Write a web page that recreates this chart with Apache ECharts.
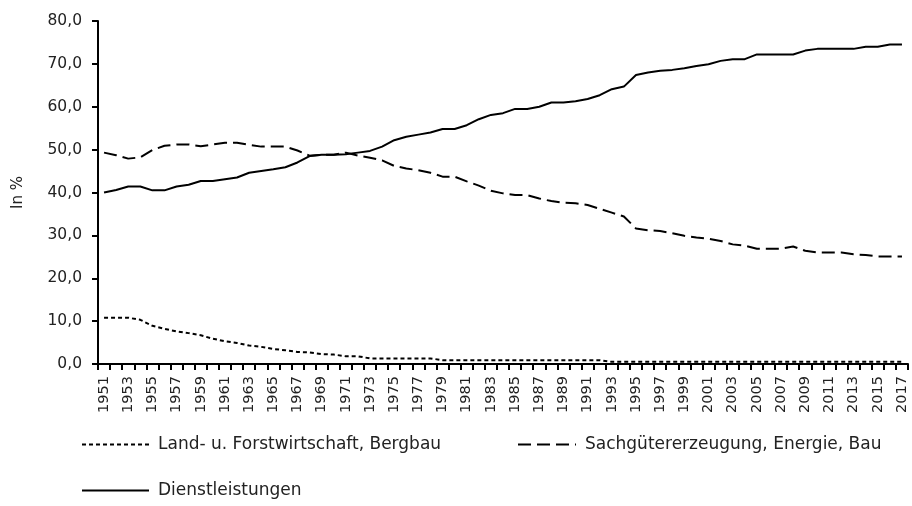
<!DOCTYPE html>
<html>
<head>
<meta charset="utf-8">
<script src="https://cdn.jsdelivr.net/npm/echarts@6/dist/echarts.min.js"></script>
<style>
  html, body { margin: 0; padding: 0; background: #fff; }
  #chart { width: 912px; height: 506px; }
</style>
</head>
<body>
<div id="chart"></div>
<script>
;(function(window){

  // Jahre 1951 - 2017
  var years = [];
  for (var y = 1951; y <= 2017; y++) years.push(String(y));

  // Anteile in %
  var landForst = [
    10.8, 10.8, 10.8, 10.3, 8.9, 8.2, 7.6, 7.2, 6.7, 5.9,
    5.3, 4.9, 4.3, 4.0, 3.5, 3.2, 2.8, 2.7, 2.3, 2.2,
    1.8, 1.8, 1.3, 1.3, 1.3, 1.3, 1.3, 1.3, 0.9, 0.9,
    0.9, 0.9, 0.9, 0.9, 0.9, 0.9, 0.9, 0.9, 0.9, 0.9,
    0.9, 0.9, 0.5, 0.5, 0.5, 0.5, 0.5, 0.5, 0.5, 0.5,
    0.5, 0.5, 0.5, 0.5, 0.5, 0.5, 0.5, 0.5, 0.5, 0.5,
    0.5, 0.5, 0.5, 0.5, 0.5, 0.5, 0.5
  ];
  var sachgueter = [
    49.3, 48.7, 47.9, 48.2, 49.9, 50.9, 51.2, 51.2, 50.8, 51.2,
    51.6, 51.6, 51.1, 50.7, 50.7, 50.7, 49.8, 48.6, 48.8, 48.8,
    49.3, 48.6, 48.1, 47.5, 46.2, 45.6, 45.2, 44.6, 43.7, 43.7,
    42.6, 41.6, 40.4, 39.8, 39.4, 39.4, 38.6, 38.0, 37.6, 37.5,
    37.1, 36.2, 35.3, 34.4, 31.6, 31.2, 31.0, 30.5, 29.9, 29.5,
    29.2, 28.7, 27.9, 27.6, 26.9, 26.9, 26.9, 27.4, 26.4, 26.0,
    26.0, 26.0, 25.6, 25.4, 25.1, 25.1, 25.1
  ];
  var dienst = [
    40.0, 40.6, 41.4, 41.4, 40.5, 40.5, 41.4, 41.8, 42.7, 42.7,
    43.1, 43.5, 44.6, 45.0, 45.4, 45.9, 47.0, 48.5, 48.8, 48.8,
    48.9, 49.3, 49.7, 50.7, 52.2, 53.0, 53.5, 54.0, 54.8, 54.8,
    55.7, 57.1, 58.1, 58.5, 59.5, 59.5, 60.0, 61.0, 61.0, 61.3,
    61.8, 62.7, 64.1, 64.7, 67.4, 68.0, 68.4, 68.6, 69.0, 69.5,
    69.9, 70.7, 71.1, 71.1, 72.2, 72.2, 72.2, 72.2, 73.1, 73.5,
    73.5, 73.5, 73.5, 74.0, 74.0, 74.5, 74.5
  ];

  var seriesNames = ['Land- u. Forstwirtschaft, Bergbau', 'Sachgütererzeugung, Energie, Bau', 'Dienstleistungen'];

  var font = 'DejaVu Sans';
  var textColor = '#222';

  var myChart = echarts.init(document.getElementById('chart'));

  // eine Legende pro Eintrag, damit die Positionen passen
  function legendAt(name, left, top, width) {
    return {
      data: [name],
      left: left,
      top: top,
      itemWidth: width,
      itemHeight: 10,
      itemGap: 0,
      padding: 0,
      selectedMode: false,
      itemStyle: { color: 'rgba(0,0,0,0)', borderColor: 'rgba(0,0,0,0)', borderWidth: 0 },
      textStyle: { fontFamily: font, fontSize: 17, color: textColor, padding: [0, 0, 0, 4] }
    };
  }

  var option = {
    animation: false,
    backgroundColor: '#fff',
    legend: [
      legendAt(seriesNames[0], 81, 436, 67),
      legendAt(seriesNames[1], 517, 436, 58),
      legendAt(seriesNames[2], 81, 482, 67)
    ],
    grid: {
      left: 98,
      right: 4,
      top: 21,
      bottom: 142
    },
    xAxis: {
      type: 'category',
      data: years,
      boundaryGap: true,
      axisLine: { lineStyle: { color: '#000', width: 2 } },
      axisTick: { show: true, interval: 0, length: 6, lineStyle: { color: '#000', width: 2 } },
      axisLabel: {
        interval: 1,
        rotate: 90,
        margin: 12,
        fontFamily: font,
        fontSize: 14.5,
        color: textColor
      },
      splitLine: { show: false }
    },
    yAxis: {
      type: 'value',
      min: 0,
      max: 80,
      interval: 10,
      name: 'In %',
      nameLocation: 'middle',
      nameGap: 72,
      nameTextStyle: { fontFamily: font, fontSize: 15, color: textColor },
      axisLine: { show: true, lineStyle: { color: '#000', width: 2 } },
      axisTick: { show: true, length: 6, lineStyle: { color: '#000', width: 2 } },
      axisLabel: {
        margin: 16,
        fontFamily: font,
        fontSize: 15.5,
        color: textColor,
        formatter: function (v) { return v.toFixed(1).replace('.', ','); }
      },
      splitLine: { show: false }
    },
    series: [
      {
        name: seriesNames[0],
        type: 'line',
        data: landForst,
        symbol: 'none',
        color: '#000',
        lineStyle: { color: '#000', width: 2, type: [4, 3] }
      },
      {
        name: seriesNames[1],
        type: 'line',
        data: sachgueter,
        symbol: 'none',
        color: '#000',
        lineStyle: { color: '#000', width: 2, type: [13, 6] }
      },
      {
        name: seriesNames[2],
        type: 'line',
        data: dienst,
        symbol: 'none',
        color: '#000',
        lineStyle: { color: '#000', width: 2, type: 'solid' }
      }
    ]
  };

  myChart.setOption(option);
})(window)
</script>
</body>
</html>
